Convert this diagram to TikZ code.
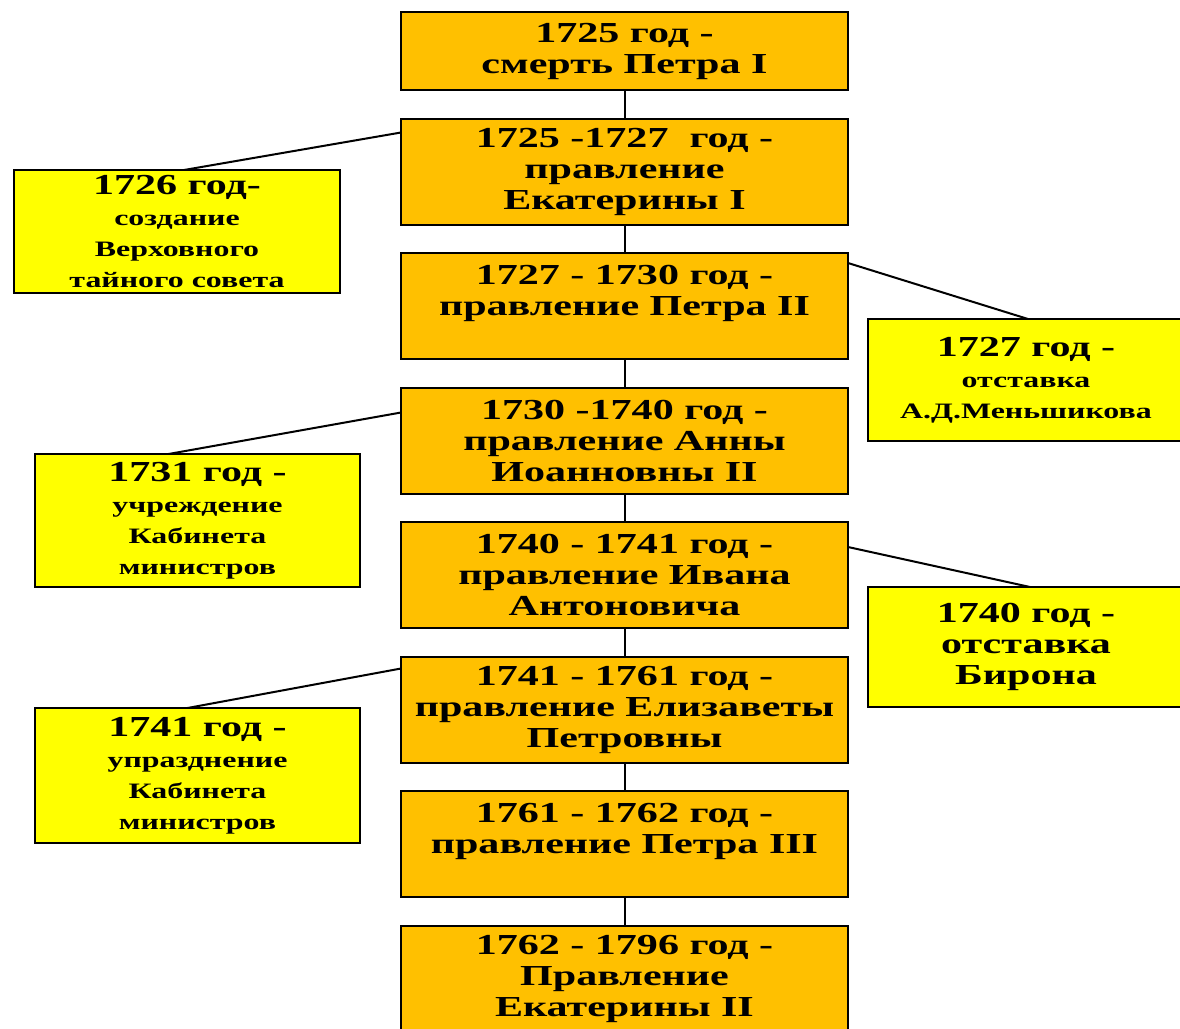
\documentclass[tikz,border=0pt]{standalone}
\usepackage{fontspec}
\setmainfont{Liberation Serif}[FakeStretch=1.45]
\usetikzlibrary{positioning}
\definecolor{reignorange}{RGB}{255,192,0}
\definecolor{eventyellow}{RGB}{255,255,0}
\newcommand{\ReignGap}{28.5pt}
\newcommand{\BigLine}{\fontsize{29}{31}\selectfont}
\newcommand{\SmallLine}{\fontsize{22}{27}\selectfont}

\begin{document}
\begin{tikzpicture}[x=1pt, y=-1pt,
		reign/.style={draw, line width=2pt, fill=reignorange, minimum width=447pt, minimum height=106pt, inner sep=0pt, outer sep=0pt, align=center, font=\bfseries\BigLine},
		event/.style={draw, line width=2pt, fill=eventyellow, inner sep=0pt, outer sep=0pt, align=center, font=\bfseries\BigLine},
		link/.style={line width=2pt}]
		\useasboundingbox (0,0) rectangle (1180,1028);
		\node[reign, minimum height=78pt] (p1) at (624.5,51) {1725 год -\\смерть Петра I};
		\node[reign, below=\ReignGap of p1] (p2) {1725 -1727~~год -\\правление\\Екатерины I};
		\node[reign, below=\ReignGap of p2] (p3) {1727 - 1730 год -\\правление Петра II\\\mbox{}};
		\node[reign, below=\ReignGap of p3] (p4) {1730 -1740 год -\\правление Анны\\Иоанновны II};
		\node[reign, below=\ReignGap of p4] (p5) {1740 - 1741 год -\\правление Ивана\\Антоновича};
		\node[reign, below=\ReignGap of p5] (p6) {1741 - 1761 год -\\правление Елизаветы\\Петровны};
		\node[reign, below=\ReignGap of p6] (p7) {1761 - 1762 год -\\правление Петра III\\\mbox{}};
		\node[reign, below=\ReignGap of p7] (p8) {1762 - 1796 год -\\Правление\\Екатерины II};
		\node[event, minimum width=326pt, minimum height=123pt] (s1) at (177,231.5) {1726 год-\\{\SmallLine создание}\\{\SmallLine Верховного}\\{\SmallLine тайного совета}};
		\node[event, minimum width=316pt, minimum height=122pt] (s2) at (1026,380) {1727 год -\\{\SmallLine отставка}\\{\SmallLine А.Д.Меньшикова}};
		\node[event, minimum width=325pt, minimum height=133pt] (s3) at (197.5,520.5) {1731 год -\\{\SmallLine учреждение}\\{\SmallLine Кабинета}\\{\SmallLine министров}};
		\node[event, minimum width=316pt, minimum height=120pt] (s4) at (1026,647) {1740 год -\\отставка\\Бирона};
		\node[event, minimum width=325pt, minimum height=135pt] (s5) at (197.5,775.5) {1741 год -\\{\SmallLine упразднение}\\{\SmallLine Кабинета}\\{\SmallLine министров}};
		\foreach \a/\b in {p1/p2, p2/p3, p3/p4, p4/p5, p5/p6, p6/p7, p7/p8}
			\draw[link] (\a.south) -- (\b.north);
		\draw[link] ([yshift=-14pt]p2.north west) -- ([xshift=7pt]s1.north);
		\draw[link] ([yshift=-10pt]p3.north east) -- ([xshift=2pt]s2.north);
		\draw[link] ([yshift=-25pt]p4.north west) -- ([xshift=-29pt]s3.north);
		\draw[link] ([yshift=-25pt]p5.north east) -- ([xshift=4pt]s4.north);
		\draw[link] ([yshift=-12pt]p6.north west) -- ([xshift=-10pt]s5.north);
	\end{tikzpicture}
\end{document}
